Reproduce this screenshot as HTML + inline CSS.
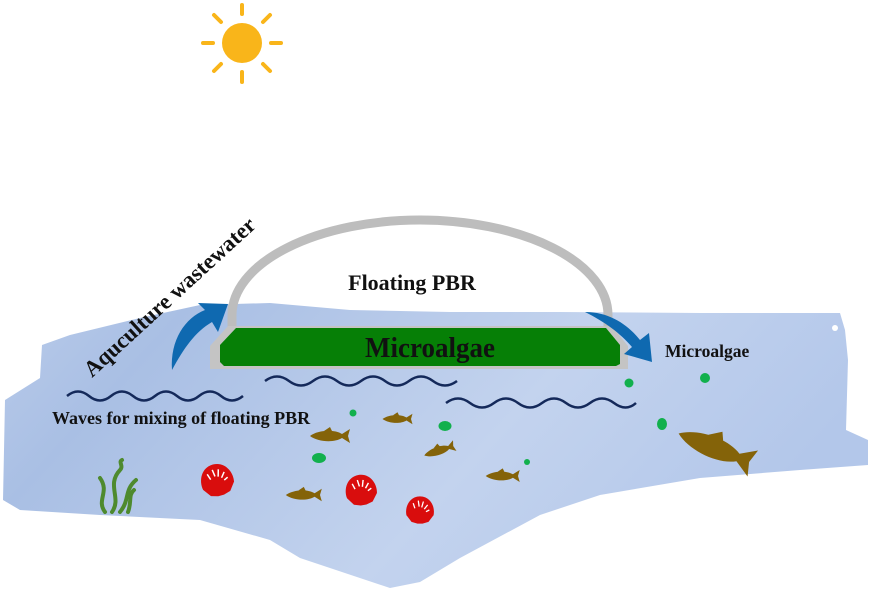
<!DOCTYPE html>
<html><head><meta charset="utf-8"><style>
html,body{margin:0;padding:0;background:#fff}
svg{display:block}
text{font-family:"Liberation Serif",serif;font-weight:bold;fill:#111}
</style></head><body>
<svg width="874" height="590" viewBox="0 0 874 590" xmlns="http://www.w3.org/2000/svg">
<defs>
<linearGradient id="w" x1="0" y1="0" x2="1" y2="0.3">
<stop offset="0" stop-color="#b9cbea"/><stop offset="0.2" stop-color="#a9bfe4"/><stop offset="0.65" stop-color="#c3d3ee"/><stop offset="1" stop-color="#b3c7ea"/>
</linearGradient>
</defs>
<g stroke="#f9b51a" stroke-width="4" stroke-linecap="round">
<line x1="242" y1="5" x2="242" y2="14"/><line x1="242" y1="72" x2="242" y2="82"/>
<line x1="203" y1="43" x2="213" y2="43"/><line x1="271" y1="43" x2="281" y2="43"/>
<line x1="214" y1="15" x2="221" y2="22"/><line x1="263" y1="64" x2="270" y2="71"/>
<line x1="270" y1="15" x2="263" y2="22"/><line x1="221" y1="64" x2="214" y2="71"/>
</g>
<circle cx="242" cy="43" r="20" fill="#f9b51a"/>
<path d="M42,345 L70,335 L140,318 L200,305 L270,303 L350,310 L450,312 L560,312 L700,313 L840,313 L845,330 L848,360 L846,430 L868,440 L868,465 L800,470 L700,478 L600,495 L540,515 L460,558 L420,582 L390,588 L300,558 L270,540 L200,520 L100,515 L20,510 L3,500 L5,400 L40,378 Z" fill="url(#w)"/>
<circle cx="835" cy="328" r="3" fill="#fff"/>
<path d="M232,330 L232,315 A188,95 0 0 1 608,315 L608,330" fill="none" stroke="#bdbdbd" stroke-width="9"/>
<path d="M228,326 L612,326 L628,346 L628,369 L210,369 L210,346 Z" fill="#c4c4c4"/>
<path d="M236,328 L606,328 L620,345 L620,364 L616,366 L224,366 L220,362 L220,345 Z" fill="#067f06"/>
<text x="430" y="357" font-size="27" text-anchor="middle" transform="translate(0,-18) scale(1,1.05)">Microalgae</text>
<text x="412" y="290" font-size="22" text-anchor="middle">Floating PBR</text>
<text transform="translate(92,378) rotate(-42.5)" font-size="22.5">Aquculture wastewater</text>
<path d="M172,370 C170,340 185,318 205,310 L198,303 L228,304 L218,332 L212,322 C195,332 184,348 172,370 Z" fill="#0f69b0"/>
<path d="M585,312 C610,312 628,325 640,340 L649,333 L652,362 L624,354 L632,347 C620,333 605,322 585,312 Z" fill="#0f69b0"/>
<text x="665" y="357" font-size="17.5">Microalgae</text>
<text x="52" y="424" font-size="18">Waves for mixing of floating PBR</text>
<g fill="none" stroke="#14295a" stroke-width="2.5">
<path d="M67,396 q11,-9 22,0 t22,0 t22,0 t22,0 t22,0 t22,0 t22,0 t22,0"/>
<path d="M265,381 q12,-9 24,0 t24,0 t24,0 t24,0 t24,0 t24,0 t24,0 t24,0"/>
<path d="M446,403 q12,-9 24,0 t24,0 t24,0 t24,0 t24,0 t24,0 t24,0 t22,0"/>
</g>
<g fill="#12b04d">
<circle cx="629" cy="383" r="4.5"/><circle cx="705" cy="378" r="5"/><circle cx="353" cy="413" r="3.5"/>
<ellipse cx="445" cy="426" rx="6.5" ry="5"/><ellipse cx="319" cy="458" rx="7" ry="5"/><ellipse cx="662" cy="424" rx="5" ry="6"/><circle cx="527" cy="462" r="3"/>
</g>
<defs><g id="f"><path d="M-18,0 C-10,-6 6,-7 14,-2 L22,-7 L20,0 L22,7 L14,2 C6,7 -10,6 -18,0 Z M-4,-5 L2,-9 L4,-5 Z" fill="#846309"/></g></defs>
<use href="#f" transform="translate(328,436)"/>
<use href="#f" transform="translate(396,419) scale(0.75)"/>
<use href="#f" transform="translate(438,451) rotate(-18) scale(0.8)"/>
<use href="#f" transform="translate(501,476) scale(0.85)"/>
<use href="#f" transform="translate(302,495) scale(0.9)"/>
<use href="#f" transform="translate(712,447) rotate(22) scale(2)"/>
<defs><g id="s"><path d="M0,-16 C12,-16 18,-4 16,6 L10,14 L3,16 L-3,16 L-10,14 L-16,6 C-18,-4 -12,-16 0,-16 Z" fill="#d90d0d"/>
<g stroke="#fff" stroke-width="1.5"><line x1="-8" y1="-8" x2="-6" y2="-2"/><line x1="-2" y1="-11" x2="-1" y2="-4"/><line x1="4" y1="-10" x2="2" y2="-3"/><line x1="9" y1="-6" x2="5" y2="-1"/><line x1="11" y1="0" x2="7" y2="2"/></g></g></defs>
<use href="#s" transform="translate(217,480) rotate(-15)"/>
<use href="#s" transform="translate(361,490) rotate(-10) scale(0.95)"/>
<use href="#s" transform="translate(420,510) scale(0.85)"/>
<g fill="none" stroke="#4e8a2e" stroke-width="4" stroke-linecap="round">
<path d="M105,512 C96,500 110,492 100,478"/>
<path d="M112,512 C122,498 106,485 120,470 C124,466 118,462 122,460"/>
<path d="M120,512 C130,500 124,490 136,480"/>
<path d="M128,512 C132,502 128,495 134,490"/>
</g>
</svg>
</body></html>
